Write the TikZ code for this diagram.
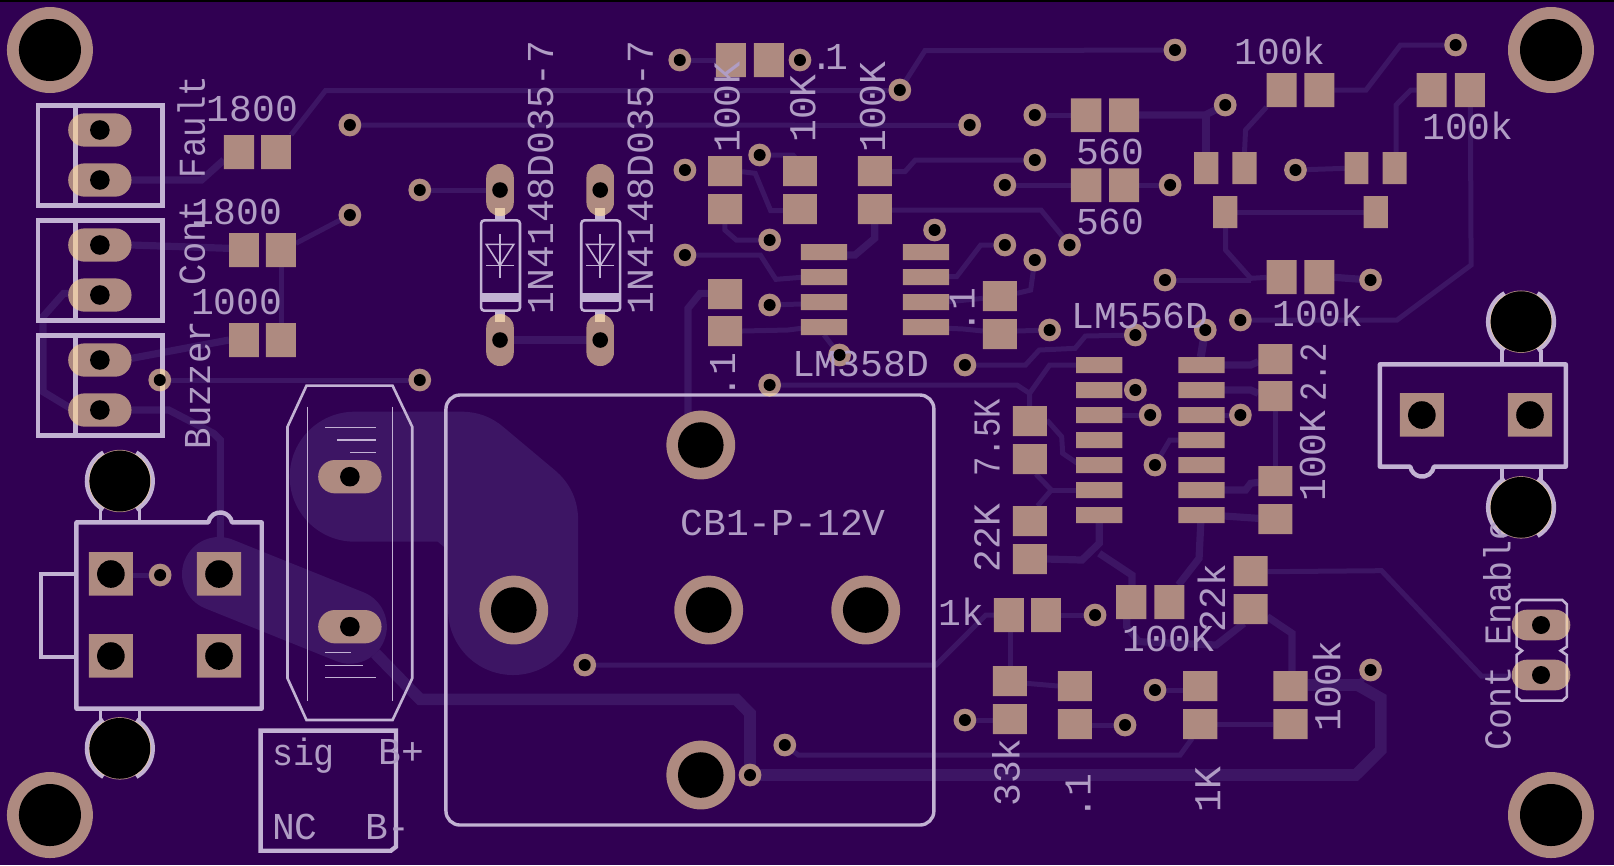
\documentclass[tikz,border=0pt]{standalone}
\usepackage{fontspec}
\setmainfont{Liberation Mono}
\definecolor{bgc}{HTML}{300052}
\definecolor{trc}{HTML}{3D1564}
\definecolor{padc}{HTML}{AE8A80}
\definecolor{silkc}{HTML}{C2B2D3}
\definecolor{peachc}{HTML}{E6C8A8}
\colorlet{sk}{silkc}
\colorlet{labc}{silkc!88!bgc}
\newcounter{lblc}
\tikzset{
  lab/.style={text=labc,inner sep=0pt,outer sep=0pt,font=\fontsize{19}{19}\selectfont,anchor=base west,transform shape},
  tt/.style={draw=trc,line width=2.5pt,line join=miter},
  tm/.style={draw=trc,line width=3.6pt,line join=miter},
  tk/.style={draw=trc,line width=5.8pt,line join=miter},
  sl/.style={draw=sk,line width=2.2pt},
  sm/.style={draw=sk,line width=1.3pt},
  sn/.style={draw=sk,line width=.6pt},
}
% text helpers: horizontal / rotated, optional width scale
\newcommand\lh[4][1]{\stepcounter{lblc}\node[lab,xscale=#1] (lbl\arabic{lblc}) at (#2,#3) {#4};}
\newcommand\lv[4][1]{\stepcounter{lblc}\node[lab,rotate=90,xscale=#1] (lbl\arabic{lblc}) at (#2,#3) {#4};}
% path fragments
\def\rc#1#2#3#4{(#1,#2) rectangle (#3,#4)}
\def\via#1#2{(#1,#2) circle [radius=5.7pt]}
\def\big#1#2{(#1,#2) circle [radius=17.2pt]}
\def\mnt#1#2{(#1,#2) circle [radius=21.5pt]}
\def\mhp#1#2{(#1,#2) circle [radius=15.6pt]}
\def\ovh#1#2{({#1-92},{#2-50}) [rounded corners=8.3pt] rectangle ({#1+92},{#2+50}) [sharp corners]}
\def\ovj#1#2{({#1-85},{#2-46}) [rounded corners=7.6pt] rectangle ({#1+85},{#2+46}) [sharp corners]}
\def\ovv#1#2{({#1-40},{#2-78}) [rounded corners=6.8pt] rectangle ({#1+40},{#2+78}) [sharp corners]}
\def\soic#1#2{\rc{#1}{#2}{#1+134}{#2+48}}
\def\padpaths{
 \mnt{145}{150} \mnt{145}{2445} \mnt{4504}{150} \mnt{4504}{2445}
 \ovh{290}{390} \ovh{290}{540} \ovh{290}{735} \ovh{290}{885} \ovh{290}{1080} \ovh{290}{1230}
 \ovh{1016}{1430} \ovh{1016}{1880}
 \ovv{1452}{570} \ovv{1452}{1020} \ovv{1743}{570} \ovv{1743}{1020}
 \ovj{4475}{1875} \ovj{4475}{2025}
 \rc{650}{405}{738}{507} \rc{758}{405}{845}{507}
 \rc{665}{699}{752}{801} \rc{772}{699}{859}{801}
 \rc{665}{969}{752}{1071} \rc{772}{969}{859}{1071}
 \rc{258}{1656}{386}{1787} \rc{572}{1656}{700}{1787} \rc{258}{1902}{386}{2033} \rc{572}{1902}{700}{2033}
 \rc{4065}{1179}{4193}{1310} \rc{4379}{1179}{4507}{1310}
 \rc{2079}{129}{2166}{231} \rc{2189}{129}{2276}{231}
 \rc{2056}{468}{2155}{558} \rc{2056}{582}{2155}{672}
 \rc{2274}{468}{2372}{558} \rc{2274}{582}{2372}{672}
 \rc{2491}{468}{2590}{558} \rc{2491}{582}{2590}{672}
 \rc{2056}{837}{2155}{927} \rc{2056}{948}{2155}{1038}
 \rc{2854}{843}{2953}{933} \rc{2854}{957}{2953}{1047}
 \soic{2326}{732} \soic{2326}{807} \soic{2326}{882} \soic{2326}{957}
 \soic{2622}{732} \soic{2622}{807} \soic{2622}{882} \soic{2622}{957}
 \soic{3125}{1071} \soic{3125}{1146} \soic{3125}{1221} \soic{3125}{1296} \soic{3125}{1371} \soic{3125}{1446} \soic{3125}{1521}
 \soic{3422}{1071} \soic{3422}{1146} \soic{3422}{1221} \soic{3422}{1296} \soic{3422}{1371} \soic{3422}{1446} \soic{3422}{1521}
 \rc{2941}{1218}{3040}{1308} \rc{2941}{1332}{3040}{1422}
 \rc{2941}{1518}{3040}{1608} \rc{2941}{1632}{3040}{1722}
 \rc{2886}{1794}{2973}{1896} \rc{2994}{1794}{3081}{1896}
 \rc{2883}{1998}{2982}{2088} \rc{2883}{2112}{2982}{2202}
 \rc{3072}{2013}{3171}{2103} \rc{3072}{2127}{3171}{2217}
 \rc{3241}{1755}{3329}{1857} \rc{3352}{1755}{3439}{1857}
 \rc{3582}{1668}{3681}{1758} \rc{3582}{1782}{3681}{1872}
 \rc{3436}{2013}{3535}{2103} \rc{3436}{2127}{3535}{2217}
 \rc{3698}{2013}{3797}{2103} \rc{3698}{2127}{3797}{2217}
 \rc{3110}{295}{3198}{396} \rc{3221}{295}{3308}{396}
 \rc{3110}{505}{3198}{606} \rc{3221}{505}{3308}{606}
 \rc{3678}{219}{3765}{321} \rc{3788}{219}{3875}{321}
 \rc{4114}{219}{4201}{321} \rc{4225}{219}{4312}{321}
 \rc{3468}{456}{3538}{552} \rc{3579}{456}{3649}{552} \rc{3523}{588}{3593}{684}
 \rc{3905}{456}{3974}{552} \rc{4015}{456}{4085}{552} \rc{3960}{588}{4030}{684}
 \rc{3678}{780}{3765}{882} \rc{3788}{780}{3875}{882}
 \rc{3654}{1032}{3753}{1122} \rc{3654}{1143}{3753}{1233}
 \rc{3654}{1398}{3753}{1488} \rc{3654}{1512}{3753}{1602}
 \big{1492}{1830} \big{2058}{1830} \big{2514}{1830} \big{2035}{1335} \big{2035}{2325}
 \mhp{348}{1443} \mhp{348}{2245} \mhp{4417}{965} \mhp{4417}{1522}
 \via{1016}{375} \via{1219}{570} \via{1016}{645} \via{464}{1140} \via{1219}{1140}
 \via{465}{1725}
 \via{1974}{180} \via{2323}{180} \via{2613}{270} \via{2816}{375}
 \via{1989}{510} \via{2206}{465} \via{2235}{720} \via{1989}{765} \via{2235}{915}
 \via{2714}{690} \via{2918}{735} \via{3005}{780} \via{3005}{345} \via{3005}{480}
 \via{2918}{555} \via{3106}{735} \via{2438}{1065} \via{3048}{990} \via{2802}{1095} \via{2235}{1155}
 \via{3412}{150} \via{3558}{315} \via{3398}{555} \via{3762}{510} \via{3383}{840} \via{3980}{840} \via{4227}{135}
 \via{3297}{1005} \via{3500}{990} \via{3602}{960} \via{3297}{1170} \via{3340}{1245} \via{3602}{1245}
 \via{1698}{1995} \via{2178}{2325} \via{2279}{2235} \via{2802}{2160}
 \via{3180}{1845} \via{3354}{1395} \via{3354}{2070} \via{3267}{2175} \via{3980}{2010}
}
% silk line art, drawn in colour sk
\def\silkart{
 \foreach \yy in {316,661,1006}{
   \draw[sl] (110,\yy) rectangle (472,\yy+300);
   \draw[sl] (219,\yy) -- (219,\yy+300);
 }
 \foreach \dx in {0,291}{
  \begin{scope}[shift={(\dx,0)}]
   \draw[sm,rounded corners=1.6pt] (1397,661) rectangle (1510,932);
   \fill[sk] (1397,880) rectangle (1510,905);
   \fill[sk] (1438,625) rectangle (1466,661);
   \fill[sk] (1438,932) rectangle (1466,965);
   \draw[sm,line width=.8pt] (1412,733) -- (1492,733) -- (1452,797) -- cycle;
   \draw[sm,line width=.8pt] (1412,797) -- (1492,797);
   \draw[sm,line width=.8pt] (1452,703) -- (1452,835);
  \end{scope}
 }
 \draw[sl,line join=round] (222,1567) -- (605,1567) arc [start angle=170,end angle=10,radius=6pt] -- (760,1567) -- (760,2126) -- (222,2126) -- cycle;
 \draw[sl,line width=1.9pt] (222,1722) -- (120,1722) -- (120,1972) -- (222,1972);
 \draw[sl,line join=round] (4007,1093) -- (4547,1093) -- (4547,1400) -- (4164,1400) arc [start angle=-10,end angle=-170,radius=6pt] -- (4007,1400) -- cycle;
 \foreach \cx/\cy in {348/1443,348/2245,4417/965,4417/1522}{
   \draw[sl,line width=2.3pt] (\cx,\cy) ++(120:16.4pt) arc [start angle=120,end angle=240,radius=16.4pt];
   \draw[sl,line width=2.3pt] (\cx,\cy) ++(-60:16.4pt) arc [start angle=-60,end angle=60,radius=16.4pt];
 }
 \draw[sl,line width=1.9pt] (292,1525) -- (292,1567) (405,1525) -- (405,1567) (292,2126) -- (292,2165) (405,2126) -- (405,2165);
 \draw[sl,line width=1.9pt] (4362,1050) -- (4362,1093) (4475,1050) -- (4475,1093) (4362,1400) -- (4362,1440) (4475,1400) -- (4475,1440);
 \draw[sm] (890,1157) -- (1140,1157) -- (1197,1280) -- (1197,2035) -- (1140,2160) -- (890,2160) -- (835,2035) -- (835,1280) -- cycle;
 \draw[sn] (892,1220) -- (892,2102) (1140,1220) -- (1140,2102)
   (945,1282) -- (1092,1282) (980,1320) -- (1092,1320) (1017,1357) -- (1092,1357)
   (945,1957) -- (1018,1957) (945,1996) -- (1054,1996) (945,2032) -- (1092,2032);
 \draw[sl] (757,2192) -- (1150,2192) -- (1150,2540) -- (1135,2552) -- (757,2552) -- cycle;
 \draw[sm,line width=1.7pt,rounded corners=7pt] (1295,1185) rectangle (2712,2475);
 \draw[sm] (4417,1800) -- (4537,1800) -- (4550,1813) -- (4550,1940) -- (4532,1952) -- (4550,1965) -- (4550,2090) -- (4537,2102) -- (4417,2102) -- (4404,2090) -- (4404,1965) -- (4420,1952) -- (4404,1940) -- (4404,1813) -- cycle;
}
\begin{document}
\begin{tikzpicture}[x=0.17218pt,y=-0.16667pt]
\useasboundingbox (0,0) rectangle (4687,2595);
\fill[bgc] (0,0) rectangle (4687,2595);
\fill[black] (0,0) rectangle (4687,5);
% pours
\draw[trc,line width=65pt,line cap=round,line join=round] (1030,1430) -- (1340,1430) -- (1490,1560) -- (1490,1830);
\draw[trc,line width=37pt,line cap=round] (636,1722) -- (1016,1880);
% traces
\draw[tm] (382,540) -- (585,540) -- (650,480);
\draw[tt] (845,405) -- (945,272) -- (2613,272);
\draw[tt] (2613,270) -- (2686,152) -- (3412,150);
\draw[tt] (1016,375) -- (2816,376);
\draw[tt] (1219,570) -- (1452,570);
\draw[tt] (1016,645) -- (859,730);
\draw[tm] (382,735) -- (665,745);
\draw[tt] (818,801) -- (818,969);
\draw[tm] (382,1075) -- (665,1020);
\draw[tt] (464,1140) -- (1219,1140);
\draw[tm] (1452,1020) -- (1743,1020);
\draw[tm] (382,1230) -- (490,1230) -- (620,1300) -- (640,1320) -- (640,1620);
\draw[tm] (200,880) -- (185,880) -- (125,950) -- (125,1175) -- (210,1228);
\draw[tt] (386,1725) -- (465,1725);
\draw[tk] (1090,1960) -- (1220,2098) -- (2138,2098) -- (2178,2140) -- (2178,2325);
\draw[tk] (2178,2325) -- (3937,2325) -- (4010,2250) -- (4010,2095) -- (3942,2055) -- (3797,2055);
\draw[tt] (3942,2055) -- (3980,2010);
\draw[tt] (1974,180) -- (2079,180);
\draw[tt] (2155,515) -- (2193,520) -- (2238,632) -- (2274,632);
\draw[tt] (2206,465) -- (2303,465) -- (2323,490);
\draw[tt] (2105,672) -- (2105,690) -- (2138,720) -- (2235,720);
\draw[tt] (1989,765) -- (2208,765) -- (2253,838) -- (2326,832);
\draw[tt] (2235,915) -- (2326,912);
\draw[tt] (2155,993) -- (2288,990) -- (2326,985);
\draw[tt] (2590,515) -- (2628,515) -- (2658,480) -- (3005,480);
\draw[tt] (2590,630) -- (3023,630) -- (3106,735);
\draw[tm] (2540,672) -- (2540,715) -- (2483,765) -- (2459,765);
\draw[tt] (2918,555) -- (3110,555);
\draw[tt] (3005,345) -- (3110,345);
\draw[tt] (2393,1005) -- (2438,1065);
\draw[tt] (2756,830) -- (2778,830) -- (2848,735) -- (2918,735);
\draw[tt] (2756,905) -- (2854,895);
\draw[tt] (2953,880) -- (2993,870) -- (3005,780);
\draw[tt] (2756,985) -- (2798,987) -- (2854,993);
\draw[tt] (2953,993) -- (3048,990);
\draw[tt] (2802,1095) -- (2978,1095) -- (3018,1050) -- (3122,1045) -- (3152,1008) -- (3297,1005);
\draw[tt] (2235,1155) -- (2953,1155) -- (2990,1180) -- (2990,1218);
\draw[tt] (2990,1180) -- (3048,1095) -- (3125,1095);
\draw[tm] (1998,1335) -- (1998,925) -- (2033,880) -- (2056,880);
\draw[tm] (3308,345) -- (3500,345) -- (3558,315);
\draw[tm] (3502,345) -- (3502,456);
\draw[tt] (3875,270) -- (3967,270) -- (4067,135) -- (4227,135);
\draw[tt] (3678,321) -- (3617,390) -- (3614,456);
\draw[tt] (4114,270) -- (4097,270) -- (4054,315) -- (4054,456);
\draw[tt] (3762,510) -- (3905,505);
\draw[tt] (3593,636) -- (3960,636);
\draw[tt] (3559,684) -- (3559,750) -- (3632,835) -- (3678,832);
\draw[tt] (3383,840) -- (3632,840);
\draw[tm] (3875,832) -- (3980,840);
\draw[tt] (3308,555) -- (3398,555);
\draw[tt] (4270,321) -- (4272,795) -- (4057,960) -- (3602,960);
\draw[tk,line width=4pt] (3500,990) -- (3487,1071);
\draw[tm] (3555,1095) -- (3632,1095) -- (3654,1085);
\draw[tm] (3555,1170) -- (3632,1170) -- (3654,1180);
\draw[tt] (3340,1245) -- (3259,1245);
\draw[tt] (3602,1245) -- (3555,1245);
\draw[tt] (3704,1233) -- (3704,1398);
\draw[tt] (3040,1260) -- (3083,1310) -- (3086,1360) -- (3136,1395);
\draw[tt] (3008,1422) -- (3053,1470) -- (3013,1518);
\draw[tt] (3053,1470) -- (3136,1470);
\draw[tt] (1698,1995) -- (2718,1995) -- (2863,1845) -- (2886,1845);
\draw[tt] (2933,1896) -- (2933,1998);
\draw[tt] (2982,2050) -- (3072,2058);
\draw[tt] (2802,2160) -- (2883,2160);
\draw[tt] (2279,2235) -- (2318,2265) -- (3427,2265) -- (3462,2215);
\draw[tt] (3081,1845) -- (3180,1845);
\draw[tm] (3040,1677) -- (3142,1680) -- (3192,1630) -- (3192,1568);
\draw[tm] (3192,1660) -- (3287,1725) -- (3287,1755);
\draw[tm] (3272,1857) -- (3272,1880) -- (3307,1925) -- (3532,1935) -- (3612,1870);
\draw[tm] (3422,1755) -- (3482,1675) -- (3487,1568);
\draw[tm] (3680,1850) -- (3752,1900) -- (3752,2013);
\draw[tt] (3354,2070) -- (3436,2070);
\draw[tt] (3171,2175) -- (3267,2175);
\draw[tt] (3535,2173) -- (3698,2173);
\draw[tt] (3354,1395) -- (3397,1320) -- (3422,1320);
\draw[tm] (3555,1470) -- (3617,1470) -- (3632,1450) -- (3654,1447);
\draw[tm] (3555,1548) -- (3654,1555);
\draw[tt] (3681,1715) -- (4012,1712) -- (4302,2028) -- (4392,2028);
% pads
\fill[padc] \padpaths;
% silk
\silkart
\begin{scope}
 \clip \padpaths;
 \colorlet{sk}{peachc}
 \silkart
\end{scope}
% texts
\lh{600}{365}{1800}
\lh{555}{672}{1800}
\lh{555}{942}{1000}
\lv[.9]{595}{535}{Fault}
\lv[.93]{595}{855}{Cont}
\lv[.94]{610}{1348}{Buzzer}
\lh[.92]{790}{2295}{sig}
\lh{1100}{2293}{B+}
\lh{790}{2518}{NC}
\lh{1060}{2518}{B-}
\lv{1606}{942}{1N4148D035-7}
\lv{1896}{942}{1N4148D035-7}
\lv{2148}{458}{100K}
\lv{2368}{428}{10K}
\lv{2570}{458}{100K}
\lh{2353}{208}{.\kern-4pt 1}
\lv{2135}{1195}{.1}
\lv{2830}{1000}{.1}
\lh{2300}{1130}{LM358D}
\lh{3112}{985}{LM556D}
\lh{3125}{492}{560}
\lh{3125}{703}{560}
\lh{3585}{192}{100k}
\lh{4130}{417}{100k}
\lh{3695}{978}{100k}
\lv[.85]{3850}{1205}{2.2}
\lv{3848}{1505}{100K}
\lv[.85]{2903}{1430}{7.5K}
\lv{2903}{1716}{22K}
\lh{2726}{1875}{1k}
\lh{1976}{1605}{CB1-P-12V}
\lv{2961}{2420}{33k}
\lv{3167}{2458}{.1}
\lv{3544}{2438}{1K}
\lh{3260}{1953}{100K}
\lv{3558}{1896}{22k}
\lv{3892}{2195}{100k}
\lv[.92]{4387}{2252}{Cont Enable}
% drill holes
\foreach \x/\y in {145/150,145/2445,4504/150,4504/2445}{\fill[black] (\x,\y) circle [radius=15.5pt];}
\foreach \x/\y in {1492/1830,2058/1830,2514/1830,2035/1335,2035/2325}{\fill[black] (\x,\y) circle [radius=11.4pt];}
\foreach \x/\y in {348/1443,348/2245,4417/965,4417/1522}{\fill[black] (\x,\y) circle [radius=15.2pt];}
\foreach \x/\y in {322/1722,636/1722,322/1968,636/1968,4129/1245,4443/1245}{\fill[black] (\x,\y) circle [radius=6.9pt];}
\foreach \x/\y in {290/390,290/540,290/735,290/885,290/1080,290/1230,1016/1430,1016/1880}{\fill[black] (\x,\y) circle [radius=4.9pt];}
\foreach \x/\y in {1452/570,1452/1020,1743/570,1743/1020}{\fill[black] (\x,\y) circle [radius=3.9pt];}
\foreach \x/\y in {4475/1875,4475/2025}{\fill[black] (\x,\y) circle [radius=4.5pt];}
\foreach \x/\y in {1016/375,1219/570,1016/645,464/1140,1219/1140,465/1725,1974/180,2323/180,2613/270,2816/375,1989/510,2206/465,2235/720,1989/765,2235/915,2714/690,2918/735,3005/780,3005/345,3005/480,2918/555,3106/735,2438/1065,3048/990,2802/1095,2235/1155,3412/150,3558/315,3398/555,3762/510,3383/840,3980/840,4227/135,3297/1005,3500/990,3602/960,3297/1170,3340/1245,3602/1245,1698/1995,2178/2325,2279/2235,2802/2160,3180/1845,3354/1395,3354/2070,3267/2175,3980/2010}{\fill[black] (\x,\y) circle [radius=3pt];}
\end{tikzpicture}
\end{document}
